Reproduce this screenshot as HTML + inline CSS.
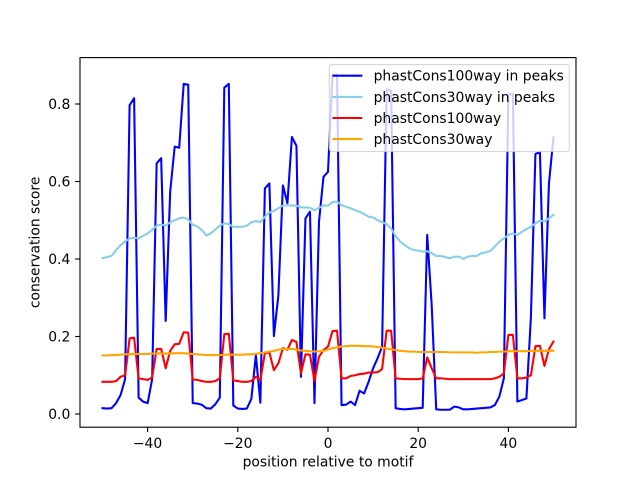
<!DOCTYPE html>
<html><head><meta charset="utf-8"><style>
html,body{margin:0;padding:0;background:#fff;}
svg{display:block;}
text{font-family:"DejaVu Sans","Liberation Sans",sans-serif;font-size:13.9px;fill:#000;}
</style></head><body>
<svg width="640" height="480" viewBox="0 0 640 480" xmlns="http://www.w3.org/2000/svg">
<rect x="0" y="0" width="640" height="480" fill="#fff"/>
<g transform="matrix(4.50909 0 0 -387.5 328 414)" fill="none" stroke-linejoin="round" stroke-linecap="square">
<polyline vector-effect="non-scaling-stroke" stroke="#0000ff" stroke-width="2.08" points="-50,0.015 -49,0.014 -48,0.015 -47,0.028 -46,0.049 -45,0.09 -44,0.797 -43,0.815 -42,0.042 -41,0.032 -40,0.028 -39,0.09 -38,0.647 -37,0.66 -36,0.24 -35,0.574 -34,0.69 -33,0.687 -32,0.852 -31,0.85 -30,0.028 -29,0.027 -28,0.024 -27,0.015 -26,0.014 -25,0.025 -24,0.042 -23,0.842 -22,0.852 -21,0.022 -20,0.014 -19,0.013 -18,0.014 -17,0.039 -16,0.152 -15,0.029 -14,0.582 -13,0.595 -12,0.201 -11,0.307 -10,0.59 -9,0.544 -8,0.715 -7,0.692 -6,0.096 -5,0.505 -4,0.522 -3,0.028 -2,0.496 -1,0.612 0,0.625 1,0.875 2,0.875 3,0.023 4,0.024 5,0.032 6,0.023 7,0.06 8,0.053 9,0.083 10,0.118 11,0.144 12,0.174 13,0.838 14,0.834 15,0.015 16,0.013 17,0.012 18,0.013 19,0.014 20,0.015 21,0.016 22,0.462 23,0.28 24,0.012 25,0.011 26,0.011 27,0.011 28,0.019 29,0.017 30,0.012 31,0.012 32,0.013 33,0.014 34,0.015 35,0.016 36,0.017 37,0.023 38,0.045 39,0.092 40,0.825 41,0.825 42,0.032 43,0.036 44,0.04 45,0.25 46,0.671 47,0.676 48,0.247 49,0.595 50,0.714"/>
<polyline vector-effect="non-scaling-stroke" stroke="#87ceeb" stroke-width="2.08" points="-50,0.402 -49,0.405 -48,0.408 -47,0.423 -46,0.436 -45,0.445 -44,0.453 -43,0.455 -42,0.453 -41,0.46 -40,0.466 -39,0.475 -38,0.486 -37,0.489 -36,0.486 -35,0.495 -34,0.5 -33,0.505 -32,0.507 -31,0.502 -30,0.488 -29,0.484 -28,0.475 -27,0.461 -26,0.466 -25,0.476 -24,0.486 -23,0.492 -22,0.49 -21,0.483 -20,0.483 -19,0.483 -18,0.486 -17,0.495 -16,0.498 -15,0.495 -14,0.509 -13,0.52 -12,0.524 -11,0.531 -10,0.538 -9,0.539 -8,0.538 -7,0.538 -6,0.533 -5,0.533 -4,0.532 -3,0.526 -2,0.532 -1,0.538 0,0.538 1,0.547 2,0.548 3,0.539 4,0.535 5,0.531 6,0.526 7,0.522 8,0.516 9,0.509 10,0.507 11,0.5 12,0.495 13,0.49 14,0.479 15,0.459 16,0.445 17,0.436 18,0.428 19,0.423 20,0.422 21,0.419 22,0.42 23,0.415 24,0.408 25,0.408 26,0.405 27,0.402 28,0.406 29,0.406 30,0.4 31,0.406 32,0.408 33,0.408 34,0.415 35,0.417 36,0.421 37,0.432 38,0.445 39,0.453 40,0.462 41,0.466 42,0.462 43,0.47 44,0.477 45,0.483 46,0.492 47,0.499 48,0.497 49,0.505 50,0.514"/>
<polyline vector-effect="non-scaling-stroke" stroke="#ff0000" stroke-width="2.08" points="-50,0.083 -49,0.083 -48,0.083 -47,0.085 -46,0.096 -45,0.1 -44,0.195 -43,0.197 -42,0.092 -41,0.09 -40,0.088 -39,0.094 -38,0.168 -37,0.168 -36,0.118 -35,0.163 -34,0.18 -33,0.181 -32,0.211 -31,0.21 -30,0.089 -29,0.088 -28,0.085 -27,0.083 -26,0.083 -25,0.085 -24,0.092 -23,0.206 -22,0.207 -21,0.087 -20,0.085 -19,0.083 -18,0.083 -17,0.085 -16,0.096 -15,0.088 -14,0.157 -13,0.159 -12,0.113 -11,0.131 -10,0.17 -9,0.166 -8,0.191 -7,0.186 -6,0.105 -5,0.154 -4,0.153 -3,0.085 -2,0.148 -1,0.165 0,0.174 1,0.214 2,0.215 3,0.092 4,0.092 5,0.098 6,0.1 7,0.103 8,0.104 9,0.107 10,0.107 11,0.108 12,0.116 13,0.215 14,0.215 15,0.092 16,0.091 17,0.09 18,0.09 19,0.09 20,0.09 21,0.092 22,0.146 23,0.118 24,0.092 25,0.092 26,0.091 27,0.09 28,0.09 29,0.09 30,0.09 31,0.09 32,0.09 33,0.09 34,0.09 35,0.09 36,0.09 37,0.092 38,0.096 39,0.105 40,0.204 41,0.204 42,0.092 43,0.092 44,0.094 45,0.1 46,0.175 47,0.176 48,0.124 49,0.167 50,0.187"/>
<polyline vector-effect="non-scaling-stroke" stroke="#ffa500" stroke-width="2.08" points="-50,0.151 -49,0.151 -48,0.152 -47,0.152 -46,0.153 -45,0.154 -44,0.154 -43,0.155 -42,0.155 -41,0.155 -40,0.155 -39,0.156 -38,0.156 -37,0.156 -36,0.156 -35,0.156 -34,0.157 -33,0.157 -32,0.157 -31,0.156 -30,0.155 -29,0.154 -28,0.153 -27,0.152 -26,0.152 -25,0.152 -24,0.152 -23,0.153 -22,0.153 -21,0.153 -20,0.153 -19,0.153 -18,0.154 -17,0.154 -16,0.155 -15,0.157 -14,0.159 -13,0.161 -12,0.163 -11,0.166 -10,0.168 -9,0.168 -8,0.168 -7,0.166 -6,0.164 -5,0.163 -4,0.162 -3,0.161 -2,0.162 -1,0.163 0,0.166 1,0.17 2,0.172 3,0.174 4,0.175 5,0.176 6,0.176 7,0.176 8,0.175 9,0.175 10,0.174 11,0.173 12,0.171 13,0.169 14,0.167 15,0.165 16,0.163 17,0.162 18,0.161 19,0.161 20,0.16 21,0.16 22,0.16 23,0.16 24,0.16 25,0.16 26,0.16 27,0.159 28,0.159 29,0.159 30,0.159 31,0.159 32,0.159 33,0.158 34,0.159 35,0.159 36,0.16 37,0.16 38,0.161 39,0.161 40,0.162 41,0.162 42,0.162 43,0.162 44,0.162 45,0.163 46,0.163 47,0.163 48,0.163 49,0.163 50,0.163"/>
</g>
<!-- axes frame -->
<rect x="80" y="57.6" width="496" height="369.6" fill="none" stroke="#000" stroke-width="1.11"/>
<!-- x ticks -->
<g stroke="#000" stroke-width="1.11">
<line x1="147.6" y1="427.2" x2="147.6" y2="432"/>
<line x1="237.8" y1="427.2" x2="237.8" y2="432"/>
<line x1="328" y1="427.2" x2="328" y2="432"/>
<line x1="418.2" y1="427.2" x2="418.2" y2="432"/>
<line x1="508.4" y1="427.2" x2="508.4" y2="432"/>
<line x1="75.1" y1="414" x2="80" y2="414"/>
<line x1="75.1" y1="336.5" x2="80" y2="336.5"/>
<line x1="75.1" y1="259" x2="80" y2="259"/>
<line x1="75.1" y1="181.5" x2="80" y2="181.5"/>
<line x1="75.1" y1="104" x2="80" y2="104"/>
</g>
<g text-anchor="middle">
<text x="147.6" y="447.8">−40</text>
<text x="237.8" y="447.8">−20</text>
<text x="328" y="447.8">0</text>
<text x="418.2" y="447.8">20</text>
<text x="508.4" y="447.8">40</text>
<text x="328" y="466.5">position relative to motif</text>
</g>
<g text-anchor="end">
<text x="70.3" y="419">0.0</text>
<text x="70.3" y="341.5">0.2</text>
<text x="70.3" y="264">0.4</text>
<text x="70.3" y="186.5">0.6</text>
<text x="70.3" y="109">0.8</text>
</g>
<text x="0" y="0" text-anchor="middle" transform="translate(39.5 242.4) rotate(-90)">conservation score</text>
<!-- legend -->
<rect x="329.3" y="64.6" width="240" height="87" rx="2.8" ry="2.8" fill="#fff" fill-opacity="0.8" stroke="#cccccc" stroke-opacity="0.8" stroke-width="1.11"/>
<g stroke-width="2.08" stroke-linecap="square">
<line x1="333.5" y1="75.7" x2="361.3" y2="75.7" stroke="#0000ff"/>
<line x1="333.5" y1="96.9" x2="361.3" y2="96.9" stroke="#87ceeb"/>
<line x1="333.5" y1="118" x2="361.3" y2="118" stroke="#ff0000"/>
<line x1="333.5" y1="139.1" x2="361.3" y2="139.1" stroke="#ffa500"/>
</g>
<text x="373.6" y="80.7">phastCons100way in peaks</text>
<text x="373.6" y="101.9">phastCons30way in peaks</text>
<text x="373.6" y="123">phastCons100way</text>
<text x="373.6" y="144.1">phastCons30way</text>
</svg>
</body></html>
